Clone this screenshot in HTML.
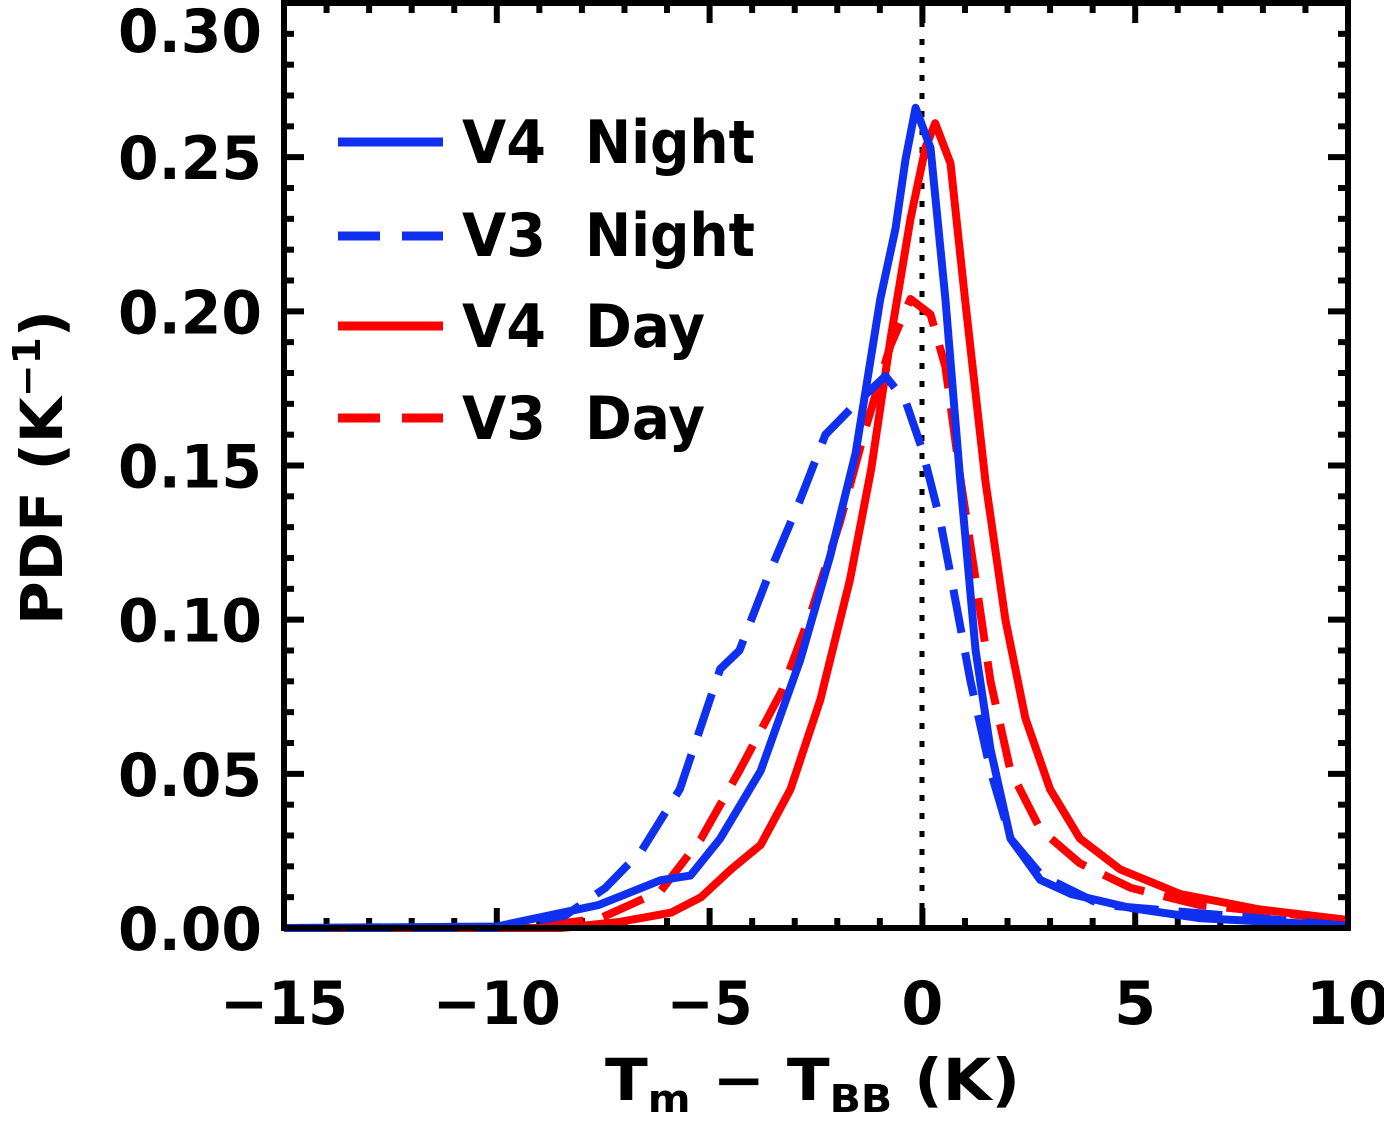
<!DOCTYPE html>
<html><head><meta charset="utf-8"><style>
html,body{margin:0;padding:0;background:#fff;}
svg{display:block;font-family:"DejaVu Sans","Liberation Sans",sans-serif;font-weight:bold;}
</style></head><body>
<svg id="chart" width="1384" height="1123" viewBox="0 0 1384 1123">
<g id="ticks"></g>
<g id="labels"></g>
<line x1="922" y1="3" x2="922" y2="928" stroke="#000" stroke-width="5" stroke-dasharray="6,12"/>
<g id="series"></g>
<rect x="284" y="3" width="1064" height="925" fill="none" stroke="#000" stroke-width="6"/>
<g font-size="60" fill="#000">
 <line x1="338" y1="142" x2="443" y2="142" stroke="#1030f0" stroke-width="9"/>
 <text x="462" y="163" textLength="84" lengthAdjust="spacingAndGlyphs">V4</text>
 <text x="585" y="163" textLength="170" lengthAdjust="spacingAndGlyphs">Night</text>
 <line x1="338" y1="236" x2="443" y2="236" stroke="#1030f0" stroke-width="9" stroke-dasharray="42,22"/>
 <text x="462" y="256" textLength="84" lengthAdjust="spacingAndGlyphs">V3</text>
 <text x="585" y="256" textLength="170" lengthAdjust="spacingAndGlyphs">Night</text>
 <line x1="338" y1="326" x2="443" y2="326" stroke="#ff0000" stroke-width="9"/>
 <text x="462" y="347" textLength="84" lengthAdjust="spacingAndGlyphs">V4</text>
 <text x="585" y="347" textLength="120" lengthAdjust="spacingAndGlyphs">Day</text>
 <line x1="338" y1="418" x2="443" y2="418" stroke="#ff0000" stroke-width="9" stroke-dasharray="42,22"/>
 <text x="462" y="439" textLength="84" lengthAdjust="spacingAndGlyphs">V3</text>
 <text x="585" y="439" textLength="120" lengthAdjust="spacingAndGlyphs">Day</text>
</g>
<text x="605" y="1100" font-size="58" textLength="415" lengthAdjust="spacingAndGlyphs">T<tspan font-size="38" dy="12">m</tspan><tspan dy="-12">  −  T</tspan><tspan font-size="38" dy="12">BB</tspan><tspan dy="-12"> (K)</tspan></text>
<text transform="translate(62,625) rotate(-90)" font-size="58" textLength="315" lengthAdjust="spacingAndGlyphs">PDF (K<tspan font-size="38" dy="-22">−1</tspan><tspan dy="22">)</tspan></text>
</svg>
<script>
const xTicks=[-15,-10,-5,0,5,10];
const yTicks=[0,0.05,0.10,0.15,0.20,0.25,0.30];
const yTickLabels=["0.00","0.05","0.10","0.15","0.20","0.25","0.30"];
const v4NightX=[-15,-10,-7.6,-6.15,-5.45,-4.75,-3.8,-2.87,-2.16,-1.57,-0.99,-0.63,-0.4,-0.16,0.19,0.54,0.89,1.25,1.6,2.07,2.77,3.5,4.9,6.5,10];
const v4NightY=[0,0.0005,0.0075,0.0155,0.017,0.029,0.051,0.087,0.121,0.154,0.204,0.227,0.249,0.266,0.253,0.204,0.145,0.090,0.058,0.029,0.0156,0.011,0.0065,0.0032,0.0007];
const v3NightX=[-15,-10,-8.4,-7.45,-6.6,-5.7,-4.75,-4.3,-3.6,-2.87,-2.28,-1.57,-0.87,-0.4,0,0.42,0.78,1.13,1.6,2.07,2.8,4.2,10];
const v3NightY=[0,0,0.004,0.013,0.025,0.045,0.084,0.090,0.115,0.139,0.160,0.170,0.179,0.171,0.155,0.132,0.106,0.080,0.051,0.029,0.017,0.0075,0.0007];
const v4DayX=[-15,-8.5,-7.1,-5.9,-5.2,-4.5,-3.8,-3.1,-2.4,-1.7,-1.2,-0.75,-0.28,0.07,0.3,0.66,1.0,1.48,1.95,2.42,3.0,3.7,4.65,6.06,7.94,10];
const v4DayY=[0,0,0.002,0.005,0.010,0.019,0.027,0.045,0.074,0.113,0.149,0.191,0.230,0.253,0.261,0.248,0.204,0.145,0.100,0.068,0.045,0.029,0.019,0.011,0.006,0.0026];
const v3DayX=[-15,-9.4,-7.6,-6.15,-5.2,-4.3,-3.3,-2.6,-1.93,-1.34,-0.75,-0.28,0.19,0.54,0.89,1.25,1.6,2.07,2.77,3.7,4.9,6.5,10];
const v3DayY=[0,0,0.003,0.012,0.029,0.051,0.077,0.103,0.132,0.162,0.189,0.204,0.199,0.182,0.146,0.113,0.080,0.051,0.032,0.021,0.013,0.0075,0.0026];

const NS='http://www.w3.org/2000/svg';
const X0=284,X1=1348,Y0=928,Y1=3;
function sx(v){return X0+(v+15)/25*(X1-X0);}
function sy(v){return Y0-v/0.30*(Y0-Y1);}
const tg=document.getElementById('ticks'),lg=document.getElementById('labels'),sg=document.getElementById('series');
function ln(g,x1,y1,x2,y2,w){const l=document.createElementNS(NS,'line');l.setAttribute('x1',x1);l.setAttribute('y1',y1);l.setAttribute('x2',x2);l.setAttribute('y2',y2);l.setAttribute('stroke','#000');l.setAttribute('stroke-width',w);


g.appendChild(l);}
for(let v=-15;v<=10;v++){const x=sx(v);const len=(v%5===0)?20:10;ln(tg,x,Y0,x,Y0-len,6);ln(tg,x,Y1,x,Y1+len,6);}
for(let i=0;i<=30;i++){const y=sy(i*0.01);const len=(i%5===0)?20:10;ln(tg,X0,y,X0+len,y,6);ln(tg,X1,y,X1-len,y,6);}
xTicks.forEach(v=>{const t=document.createElementNS(NS,'text');const s=(v<0?'−':'')+Math.abs(v);t.setAttribute('x',sx(v));t.setAttribute('y',1024);t.setAttribute('font-size','60');t.setAttribute('text-anchor','middle');
const w=(v<0?44:0)+String(Math.abs(v)).length*42;t.setAttribute('textLength',w);t.setAttribute('lengthAdjust','spacingAndGlyphs');t.textContent=s;


lg.appendChild(t);});
yTicks.forEach((v,i)=>{const t=document.createElementNS(NS,'text');t.setAttribute('x',118);let y=sy(v)+22;if(y<52)y=52;t.setAttribute('y',y);t.setAttribute('font-size','60');t.setAttribute('textLength','144');t.setAttribute('lengthAdjust','spacingAndGlyphs');t.textContent=yTickLabels[i];


lg.appendChild(t);});
function series(xs,ys,color,dash,name){const p=document.createElementNS(NS,'path');let d='';xs.forEach((x,i)=>{d+=(i?'L':'M')+sx(x).toFixed(1)+','+sy(ys[i]).toFixed(1);});p.setAttribute('d',d);p.setAttribute('fill','none');p.setAttribute('stroke',color);p.setAttribute('stroke-width','8');p.setAttribute('stroke-linejoin','round');if(dash)p.setAttribute('stroke-dasharray','44,20');


sg.appendChild(p);}
series(v3DayX,v3DayY,'#ff0000',true,'v3-day-line');
series(v4DayX,v4DayY,'#ff0000',false,'v4-day-line');
series(v3NightX,v3NightY,'#1030f0',true,'v3-night-line');
series(v4NightX,v4NightY,'#1030f0',false,'v4-night-line');
</script>
</body></html>
